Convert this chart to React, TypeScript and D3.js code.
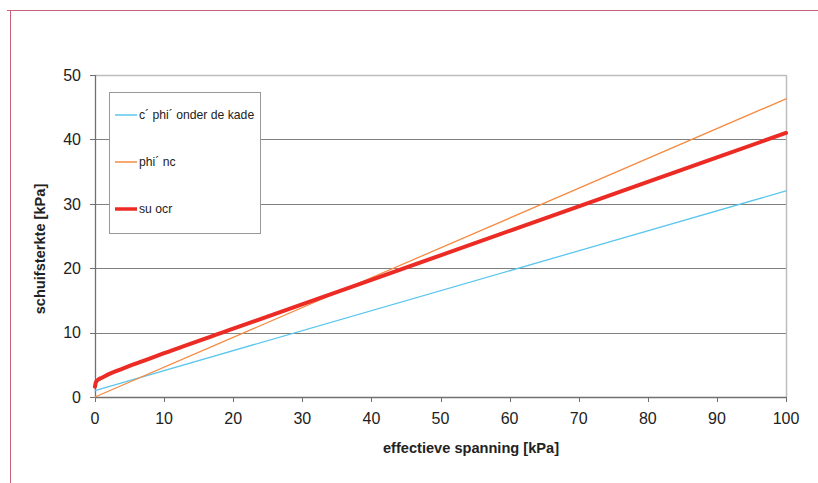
import React from "react";
import * as d3 from "d3";

const xTicks = [0, 10, 20, 30, 40, 50, 60, 70, 80, 90, 100];
const yTicks = [0, 10, 20, 30, 40, 50];

const blueX = [0, 100];
const blueY = [1.0, 32.0];
const orangeX = [0, 100];
const orangeY = [0, 46.3];
const redX = [0, 0.1, 0.3, 0.6, 1, 2, 4, 7, 10, 20, 40, 60, 80, 100];
const redY = [1.6, 2.2, 2.55, 2.8, 3.0, 3.55, 4.4, 5.6, 6.8, 10.6, 18.2, 25.8, 33.4, 41.0];

const seriesNames = ["c´ phi´ onder de kade", "phi´ nc", "su ocr"];
const seriesColors = ["#5cc6ee", "#f58b42", "#ec2b25"];
const seriesWidths = [1.3, 1.3, 4];

export default function App() {
  const W = 818, H = 483;
  const x = d3.scaleLinear().domain([0, 100]).range([95, 786]);
  const y = d3.scaleLinear().domain([0, 50]).range([397, 75]);
  const line = d3
    .line<[number, number]>()
    .x((d) => x(d[0]))
    .y((d) => y(d[1]))
    .curve(d3.curveMonotoneX);
  const series: [number, number][][] = [
    blueX.map((v, i) => [v, blueY[i]]),
    orangeX.map((v, i) => [v, orangeY[i]]),
    redX.map((v, i) => [v, redY[i]]),
  ];
  const font = "'Liberation Sans', Arial, Helvetica, sans-serif";
  const legendRows = [115, 162, 209];
  return (
    <svg
      width={W}
      height={H}
      style={{ position: "absolute", left: 0, top: 0, background: "#fff" }}
      fontFamily={font}
    >
      <rect x={0} y={0} width={W} height={H} fill="#fff" />
      <line x1={7} y1={10.5} x2={818} y2={10.5} stroke="#c8627a" strokeWidth={1} />
      <line x1={10.5} y1={10} x2={10.5} y2={483} stroke="#c8627a" strokeWidth={1} />

      {/* gridlines */}
      {yTicks.slice(1, -1).map((t) => (
        <line key={t} x1={x(0)} x2={x(100)} y1={Math.round(y(t)) + 0.5} y2={Math.round(y(t)) + 0.5} stroke="#808080" strokeWidth={1} />
      ))}
      {/* plot border top/right */}
      <line x1={x(0)} x2={x(100)} y1={y(50) + 0.5} y2={y(50) + 0.5} stroke="#bdbdbd" strokeWidth={1.5} />
      <line x1={x(100) + 0.5} x2={x(100) + 0.5} y1={y(50)} y2={y(0)} stroke="#bdbdbd" strokeWidth={1.5} />

      {/* axes */}
      <line x1={x(0) + 0.5} x2={x(0) + 0.5} y1={y(50)} y2={y(0)} stroke="#707070" strokeWidth={1.3} />
      <line x1={x(0)} x2={x(100)} y1={y(0) + 0.5} y2={y(0) + 0.5} stroke="#707070" strokeWidth={1.3} />
      {yTicks.map((t) => (
        <g key={t}>
          <line x1={x(0) - 5} x2={x(0)} y1={Math.round(y(t)) + 0.5} y2={Math.round(y(t)) + 0.5} stroke="#707070" />
          <text x={81} y={y(t)} dy="0.36em" textAnchor="end" fontSize={16} fill="#222">
            {t}
          </text>
        </g>
      ))}
      {xTicks.map((t) => (
        <g key={t}>
          <line x1={Math.round(x(t)) + 0.5} x2={Math.round(x(t)) + 0.5} y1={y(0)} y2={y(0) + 5} stroke="#707070" />
          <text x={x(t)} y={424} textAnchor="middle" fontSize={16} fill="#222">
            {t}
          </text>
        </g>
      ))}

      {/* series */}
      {series.map((s, i) => (
        <path key={i} d={line(s) || ""} fill="none" stroke={seriesColors[i]} strokeWidth={seriesWidths[i]} strokeLinecap="round" />
      ))}

      {/* legend */}
      <rect x={109.5} y={92.5} width={151} height={141} fill="#fff" stroke="#999" strokeWidth={1} />
      {seriesNames.map((n, i) => (
        <g key={n}>
          <line x1={115} x2={137} y1={legendRows[i]} y2={legendRows[i]} stroke={seriesColors[i]} strokeWidth={seriesWidths[i] === 4 ? 3.5 : 1.5} />
          <text x={139} y={legendRows[i]} dy="0.35em" fontSize={12.2} fill="#222">
            {n}
          </text>
        </g>
      ))}

      {/* axis titles */}
      <text x={471} y={453} textAnchor="middle" fontSize={14.6} fontWeight="bold" fill="#222">
        effectieve spanning [kPa]
      </text>
      <text
        transform={`translate(45, 249) rotate(-90)`}
        textAnchor="middle"
        fontSize={14.6}
        fontWeight="bold"
        fill="#222"
      >
        schuifsterkte [kPa]
      </text>
    </svg>
  );
}
